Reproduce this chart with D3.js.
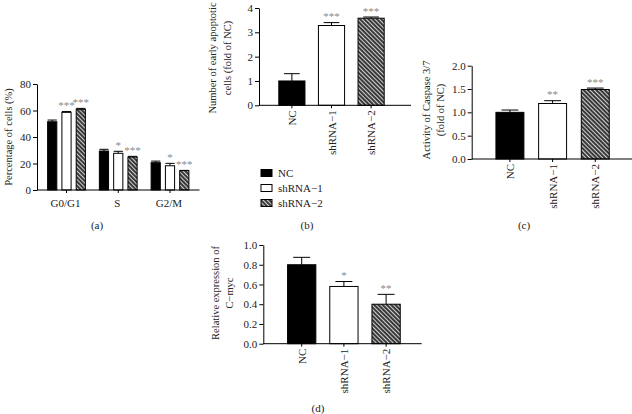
<!DOCTYPE html>
<html><head><meta charset="utf-8">
<script src="https://cdn.jsdelivr.net/npm/d3@7"></script>
<style>
html,body{margin:0;padding:0;background:#fff;}
svg{display:block;font-family:"Liberation Serif","Times New Roman",serif;}
svg text{font-family:"Liberation Serif","Times New Roman",serif;}
</style></head>
<body>
<svg id="chart" width="632" height="414"></svg>
<script>
// ---------- data ----------
const groups = ["NC", "shRNA−1", "shRNA−2"];
const phases = ["G0/G1", "S", "G2/M"];

const cycleNC   = [51.5, 29.4, 20.6];
const cycleSh1  = [58.6, 27.7, 18.3];
const cycleSh2  = [60.9, 24.9, 14.6];
const cycleErrNC  = [1.3, 1.3, 1.2];
const cycleErrSh1 = [0.6, 1.5, 1.8];
const cycleErrSh2 = [0.7, 0.5, 0.2];
const cycleSigNC  = ["", "", ""];
const cycleSigSh1 = ["***", "*", "*"];
const cycleSigSh2 = ["***", "***", "***"];
const cycleTicks = [0, 20, 40, 60, 80];

const apoptosisValues = [1.0, 3.28, 3.58];
const apoptosisErr    = [0.3, 0.12, 0.05];
const apoptosisSig    = ["", "***", "***"];
const apoptosisTicks  = [0, 1, 2, 3, 4];

const caspaseValues = [1.0, 1.19, 1.49];
const caspaseErr    = [0.05, 0.06, 0.03];
const caspaseSig    = ["", "**", "***"];
const caspaseTicks  = [0, 0.5, 1.0, 1.5, 2.0];

const mycValues = [0.80, 0.58, 0.40];
const mycErr    = [0.075, 0.05, 0.10];
const mycSig    = ["", "*", "**"];
const mycTicks  = [0, 0.2, 0.4, 0.6, 0.8, 1.0];

// ---------- setup ----------
const svg = d3.select("#chart");
const FS = 11;
const FSL = 10.5;
const FF = "Liberation Serif";
const defs = svg.append("defs");
const pat = defs.append("pattern").attr("id", "hatch")
  .attr("patternUnits", "userSpaceOnUse").attr("width", 3).attr("height", 3)
  .attr("patternTransform", "rotate(45)");
pat.append("rect").attr("width", 3).attr("height", 3).attr("fill", "#3a3a3a");
pat.append("line").attr("x1", 0).attr("y1", 0.5).attr("x2", 3).attr("y2", 0.5)
  .attr("stroke", "#d0d0d0").attr("stroke-width", 1);

const fills = ["#000", "#fff", "url(#hatch)"];

function yAxis(g, y, x0, ticks, fmt) {
  const ax = g.append("g").attr("transform", `translate(${x0},0)`)
    .call(d3.axisLeft(y).tickValues(ticks).tickFormat(fmt).tickSize(4).tickPadding(2).tickSizeOuter(0));
  ax.attr("font-family", FF).attr("font-size", FS);
  ax.selectAll("text").attr("font-size", FS).attr("font-family", FF).attr("fill", "#222");
  ax.selectAll("line,path").attr("stroke", "#000").attr("stroke-width", 1);
}

function xLine(g, x0, x1, y0) {
  g.append("line").attr("x1", x0).attr("x2", x1).attr("y1", y0).attr("y2", y0)
    .attr("stroke", "#000").attr("stroke-width", 1);
}

function bar(g, cx, w, y, v, e, fill, sig, capW) {
  const y0 = y(0);
  const top = y(v), et = y(v + e);
  g.append("line").attr("x1", cx).attr("x2", cx).attr("y1", top).attr("y2", et).attr("stroke", "#000").attr("stroke-width", 1);
  g.append("line").attr("x1", cx - capW / 2).attr("x2", cx + capW / 2).attr("y1", et).attr("y2", et).attr("stroke", "#000").attr("stroke-width", 1);
  g.append("rect").attr("x", cx - w / 2).attr("y", top).attr("width", w).attr("height", y0 - top)
    .attr("fill", fill).attr("stroke", "#000").attr("stroke-width", 1);
  if (sig) g.append("text").attr("x", cx).attr("y", et - 2.5).attr("text-anchor", "middle")
    .attr("font-family", FF).attr("font-size", 11).attr("fill", "#8a8a8a").text(sig);
}

function yLabel(lines, xs, cy) {
  lines.forEach((t, i) => svg.append("text")
    .attr("transform", `translate(${xs[i]},${cy}) rotate(-90)`)
    .attr("text-anchor", "middle").attr("dominant-baseline", "central")
    .attr("font-family", FF).attr("font-size", FSL).attr("fill", "#222").text(t));
}

function caption(t, x, y) {
  svg.append("text").attr("x", x).attr("y", y).attr("text-anchor", "middle")
    .attr("font-family", FF).attr("font-size", FS).attr("fill", "#222").text(t);
}

// ---------- panel (a) ----------
{
  const g = svg.append("g");
  const y = d3.scaleLinear().domain([0, 80]).range([190, 84]);
  const x = d3.scaleBand().domain(phases).range([37, 199.5]).paddingInner(0.27).paddingOuter(0.205);
  const xi = d3.scaleBand().domain(groups).range([0, x.bandwidth()]).paddingInner(0.357).paddingOuter(0);
  const vals = [cycleNC, cycleSh1, cycleSh2];
  const errs = [cycleErrNC, cycleErrSh1, cycleErrSh2];
  const sigs = [cycleSigNC, cycleSigSh1, cycleSigSh2];
  phases.forEach((p, pi) => {
    groups.forEach((s, si) => {
      const cx = x(p) + xi(s) + xi.bandwidth() / 2;
      bar(g, cx, xi.bandwidth(), y, vals[si][pi], errs[si][pi], fills[si], sigs[si][pi], xi.bandwidth());
    });
    const c = x(p) + x.bandwidth() / 2;
    g.append("line").attr("x1", c).attr("x2", c).attr("y1", 190).attr("y2", 193).attr("stroke", "#000");
    g.append("text").attr("x", c - 1).attr("y", 207).attr("text-anchor", "middle")
      .attr("font-family", FF).attr("font-size", FS).attr("fill", "#222").text(p);
  });
  yAxis(g, y, 37, cycleTicks, d3.format("d"));
  xLine(g, 37, 199.5, 190);
  yLabel(["Percentage of cells (%)"], [8], 137);
  caption("(a)", 97, 229);
}

// ---------- generic single-series panel ----------
function simplePanel(opt) {
  const g = svg.append("g");
  const y = d3.scaleLinear().domain(opt.domain).range([opt.y0, opt.yTop]);
  const x = d3.scaleBand().domain(groups).range([opt.x0, opt.x1]).paddingInner(opt.pi).paddingOuter(opt.po);
  groups.forEach((s, i) => {
    const cx = x(s) + x.bandwidth() / 2;
    bar(g, cx, x.bandwidth(), y, opt.values[i], opt.errs[i], fills[i], opt.sigs[i], x.bandwidth() * 0.6);
    g.append("line").attr("x1", cx).attr("x2", cx).attr("y1", opt.y0).attr("y2", opt.y0 + 3).attr("stroke", "#000");
    g.append("text").attr("transform", `translate(${cx + 4},${opt.y0 + 5}) rotate(-90)`)
      .attr("text-anchor", "end").attr("font-family", FF).attr("font-size", FS).attr("fill", "#222").text(s);
  });
  yAxis(g, y, opt.x0, opt.ticks, opt.fmt);
  xLine(g, opt.x0, opt.axisEnd, opt.y0);
  yLabel(opt.label, opt.labelX, opt.labelY);
}

// (b)
simplePanel({
  domain: [0, 4], y0: 105.3, yTop: 8, x0: 259, x1: 404, axisEnd: 411, pi: 0.34, po: 0.5,
  values: apoptosisValues, errs: apoptosisErr, sigs: apoptosisSig, ticks: apoptosisTicks, fmt: d3.format("d"),
  label: ["Number of early apoptotic", "cells (fold of NC)"], labelX: [212, 227], labelY: 58
});
// (c)
simplePanel({
  domain: [0, 2], y0: 159, yTop: 65.7, x0: 471.7, x1: 633.5, axisEnd: 632, pi: 0.345, po: 0.568,
  values: caspaseValues, errs: caspaseErr, sigs: caspaseSig, ticks: caspaseTicks, fmt: d3.format(".1f"),
  label: ["Activity of Caspase 3/7", "(fold of NC)"], labelX: [426, 440], labelY: 110
});
// (d)
simplePanel({
  domain: [0, 1], y0: 343.7, yTop: 245, x0: 263.3, x1: 424.5, axisEnd: 421.7, pi: 0.33, po: 0.575,
  values: mycValues, errs: mycErr, sigs: mycSig, ticks: mycTicks, fmt: d3.format(".1f"),
  label: ["Relative expression of", "C−myc"], labelX: [215, 229], labelY: 293
});

// ---------- legend ----------
{
  const lg = svg.append("g");
  const ly = d3.scalePoint().domain(groups).range([173, 203]);
  groups.forEach((s, i) => {
    lg.append("rect").attr("x", 261).attr("y", ly(s) - 3.5).attr("width", 11).attr("height", 7)
      .attr("fill", fills[i]).attr("stroke", "#000").attr("stroke-width", 1);
    lg.append("text").attr("x", 278).attr("y", ly(s) + 4).attr("font-family", FF).attr("font-size", FS).attr("fill", "#222").text(s);
  });
  caption("(b)", 307, 229);
}
caption("(c)", 524, 229);
caption("(d)", 318, 412);
</script>
</body></html>
